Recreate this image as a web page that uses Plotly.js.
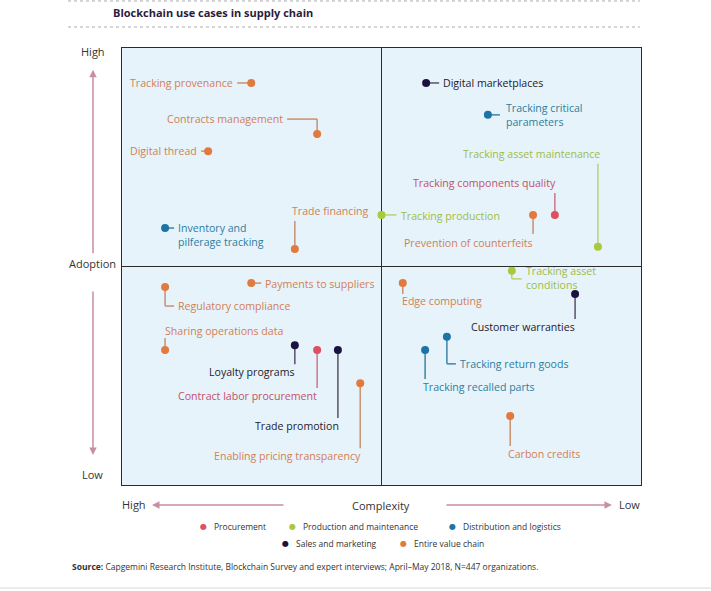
<!DOCTYPE html>
<html>
<head>
<meta charset="utf-8">
<script src="https://cdn.plot.ly/plotly-3.0.1.min.js"></script>
<style>html,body{margin:0;padding:0;background:#fff;}#chart{width:711px;height:591px;}</style>
</head>
<body>
<div id="chart"></div>
<script>
// ---- DATA ----
const categories = ['Procurement', 'Production and maintenance', 'Distribution and logistics', 'Sales and marketing', 'Entire value chain'];
const useCases = [
  'Tracking provenance', 'Contracts management', 'Digital thread', 'Trade financing',
  'Inventory and pilferage tracking', 'Tracking production', 'Digital marketplaces',
  'Tracking critical parameters', 'Tracking asset maintenance', 'Tracking components quality',
  'Prevention of counterfeits', 'Tracking asset conditions', 'Edge computing',
  'Customer warranties', 'Tracking return goods', 'Tracking recalled parts', 'Carbon credits',
  'Payments to suppliers', 'Regulatory compliance', 'Sharing operations data',
  'Loyalty programs', 'Contract labor procurement', 'Trade promotion', 'Enabling pricing transparency'
];
// complexity axis: 0 = high complexity (left), 10 = low complexity (right)
const complexity = [2.49, 3.76, 1.66, 3.33, 0.83, 5.00, 5.86, 7.05, 9.17, 8.34, 7.92, 7.51, 5.41, 8.73, 6.26, 5.84, 7.48, 2.49, 0.83, 0.83, 3.33, 3.76, 4.16, 4.59];
// adoption axis: 0 = low, 10 = high
const adoption   = [9.20, 8.03, 7.64, 5.40, 5.88, 6.18, 9.20, 8.47, 5.45, 6.18, 6.18, 4.90, 4.62, 4.37, 3.39, 3.09, 1.58, 4.62, 4.53, 3.09, 3.20, 3.09, 3.09, 2.33];
const categoryOf = [
  'Entire value chain', 'Entire value chain', 'Entire value chain', 'Entire value chain',
  'Distribution and logistics', 'Production and maintenance', 'Sales and marketing',
  'Distribution and logistics', 'Production and maintenance', 'Procurement',
  'Entire value chain', 'Production and maintenance', 'Entire value chain',
  'Sales and marketing', 'Distribution and logistics', 'Distribution and logistics', 'Entire value chain',
  'Entire value chain', 'Entire value chain', 'Entire value chain',
  'Sales and marketing', 'Procurement', 'Sales and marketing', 'Entire value chain'
];
const xTickLabels = ['High', 'Complexity', 'Low'];
const yTickLabels = ['High', 'Adoption', 'Low'];

// ---- STYLE ----
const dotColor = {
  'Procurement': '#de4f5f',
  'Production and maintenance': '#a9c93c',
  'Distribution and logistics': '#1c73a6',
  'Sales and marketing': '#1b123f',
  'Entire value chain': '#e07a3e'
};
const textColor = {
  'Procurement': '#c4506c',
  'Production and maintenance': '#9dbd45',
  'Distribution and logistics': '#2c7e9f',
  'Sales and marketing': '#1e1a2c',
  'Entire value chain': '#d27f55'
};
const lineColor = {
  'Procurement': '#c9788a',
  'Production and maintenance': '#b9d178',
  'Distribution and logistics': '#3d84a6',
  'Sales and marketing': '#55536a',
  'Entire value chain': '#c9906e'
};
const lineBreaks = {
  'Inventory and pilferage tracking': 'Inventory and<br>pilferage tracking',
  'Tracking critical parameters': 'Tracking critical<br>parameters',
  'Tracking asset conditions': 'Tracking asset<br>conditions'
};
// label placement (pixel offsets from the dot; +y is up) and connector paths
const placement = {
  'Tracking provenance': {dx: -16, dy: 0, xa: 'right', path: [[0, 0], [-14, 0]]},
  'Contracts management': {dx: -32, dy: 15, xa: 'right', path: [[0, 0], [0, 15], [-30, 15]]},
  'Digital thread': {dx: -9, dy: 0, xa: 'right', path: [[0, 0], [-7, 0]]},
  'Trade financing': {dx: -5, dy: 38, xa: 'left', path: [[0, 0], [0, 28]]},
  'Inventory and pilferage tracking': {dx: 11, dy: -6.5, xa: 'left', path: [[0, 0], [9, 0]]},
  'Tracking production': {dx: 17, dy: -1, xa: 'left', path: [[0, 0], [15, 0]]},
  'Digital marketplaces': {dx: 15, dy: 0, xa: 'left', path: [[0, 0], [13, 0]]},
  'Tracking critical parameters': {dx: 16, dy: -0.5, xa: 'left', path: [[0, 0], [12, 0]]},
  'Tracking asset maintenance': {dx: 4, dy: 93, xa: 'right', path: [[0, 0], [0, 83]]},
  'Tracking components quality': {dx: 3, dy: 32, xa: 'right', path: [[0, 0], [0, 22]]},
  'Prevention of counterfeits': {dx: 2, dy: -28, xa: 'right', path: [[0, 0], [0, -19]]},
  'Tracking asset conditions': {dx: 12, dy: -7, xa: 'left', path: [[0, 0], [0, -8], [10, -8]]},
  'Edge computing': {dx: -3, dy: -18, xa: 'left', path: [[0, 0], [0, -11]]},
  'Customer warranties': {dx: 2, dy: -33, xa: 'right', path: [[0, 0], [0, -25]]},
  'Tracking return goods': {dx: 11, dy: -27, xa: 'left', path: [[0, 0], [0, -27], [9, -27]]},
  'Tracking recalled parts': {dx: -4, dy: -37, xa: 'left', path: [[0, 0], [0, -29]]},
  'Carbon credits': {dx: -4, dy: -38, xa: 'left', path: [[0, 0], [0, -30]]},
  'Payments to suppliers': {dx: 12, dy: -1, xa: 'left', path: [[0, 0], [10, 0]]},
  'Regulatory compliance': {dx: 11, dy: -19, xa: 'left', path: [[0, 0], [0, -19], [9, -19]]},
  'Sharing operations data': {dx: -2, dy: 19, xa: 'left', path: [[0, 0], [0, 12]]},
  'Loyalty programs': {dx: 2, dy: -27, xa: 'right', path: [[0, 0], [0, -19]]},
  'Contract labor procurement': {dx: 2, dy: -46, xa: 'right', path: [[0, 0], [0, -38]]},
  'Trade promotion': {dx: 3, dy: -76, xa: 'right', path: [[0, 0], [0, -68]]},
  'Enabling pricing transparency': {dx: 3, dy: -73, xa: 'right', path: [[0, 0], [0, -65]]}
};

const FONT = 'Open Sans, Noto Sans, sans-serif';
const LABEL_SIZE = 10.6;

// ---- TRACES ----
const traces = categories.map(cat => {
  const idx = useCases.map((_, i) => i).filter(i => categoryOf[i] === cat);
  return {
    type: 'scatter', mode: 'markers', name: cat,
    x: idx.map(i => complexity[i]),
    y: idx.map(i => adoption[i]),
    text: idx.map(i => useCases[i]),
    hoverinfo: 'text',
    marker: {size: 8, color: dotColor[cat], line: {width: 0}},
    showlegend: false
  };
});

// ---- SHAPES ----
const shapes = [
  {type: 'line', xref: 'x', yref: 'paper', x0: 5, x1: 5, y0: 0, y1: 1, line: {color: '#2b2b2b', width: 1}, layer: 'below'},
  {type: 'line', xref: 'paper', yref: 'y', x0: 0, x1: 1, y0: 5, y1: 5, line: {color: '#2b2b2b', width: 1}, layer: 'below'},
  {type: 'line', xref: 'paper', yref: 'paper', x0: -0.104, x1: 0.998, y0: 1.1076, y1: 1.1076, line: {color: '#aaaaaa', width: 1, dash: 'dot'}},
  {type: 'line', xref: 'paper', yref: 'paper', x0: -0.104, x1: 0.998, y0: 1.048, y1: 1.048, line: {color: '#aaaaaa', width: 1, dash: 'dot'}},
  {type: 'line', xref: 'paper', yref: 'paper', x0: -0.235, x1: 1.135, y0: -0.2357, y1: -0.2357, line: {color: '#ececec', width: 2}}
];
const annotations = [];

useCases.forEach((name, i) => {
  const p = placement[name];
  const cat = categoryOf[i];
  for (let k = 0; k < p.path.length - 1; k++) {
    shapes.push({
      type: 'line', xref: 'x', yref: 'y', xsizemode: 'pixel', ysizemode: 'pixel',
      xanchor: complexity[i], yanchor: adoption[i],
      x0: p.path[k][0], y0: p.path[k][1], x1: p.path[k + 1][0], y1: p.path[k + 1][1],
      line: {color: lineColor[cat], width: 1.5}, layer: 'below'
    });
  }
  annotations.push({
    x: complexity[i], y: adoption[i], xref: 'x', yref: 'y', showarrow: false,
    text: lineBreaks[name] || name, xshift: p.dx, yshift: p.dy,
    xanchor: p.xa, yanchor: 'middle', align: 'left',
    font: {family: FONT, size: LABEL_SIZE, color: textColor[cat]}
  });
});

// axis words
const axisFont = {family: FONT, size: 11, color: '#333333'};
annotations.push(
  {xref: 'paper', yref: 'paper', x: -0.0559, y: 0.993, text: yTickLabels[0], showarrow: false, font: axisFont, xanchor: 'center', yanchor: 'middle'},
  {xref: 'paper', yref: 'paper', x: -0.0559, y: 0.506, text: yTickLabels[1], showarrow: false, font: axisFont, xanchor: 'center', yanchor: 'middle'},
  {xref: 'paper', yref: 'paper', x: -0.0559, y: 0.0229, text: yTickLabels[2], showarrow: false, font: axisFont, xanchor: 'center', yanchor: 'middle'},
  {xref: 'paper', yref: 'paper', x: 0.0231, y: -0.0435, text: xTickLabels[0], showarrow: false, font: axisFont, xanchor: 'center', yanchor: 'middle'},
  {xref: 'paper', yref: 'paper', x: 0.499, y: -0.0458, text: xTickLabels[1], showarrow: false, font: axisFont, xanchor: 'center', yanchor: 'middle'},
  {xref: 'paper', yref: 'paper', x: 0.977, y: -0.0435, text: xTickLabels[2], showarrow: false, font: axisFont, xanchor: 'center', yanchor: 'middle'}
);
// arrows
const arrowStyle = {text: '', showarrow: true, arrowhead: 2, arrowsize: 1, arrowwidth: 1.5, arrowcolor: '#c98ea0', xref: 'paper', yref: 'paper', axref: 'pixel', ayref: 'pixel'};
annotations.push(
  Object.assign({}, arrowStyle, {x: -0.0559, y: 0.950, ax: 0, ay: 185}),
  Object.assign({}, arrowStyle, {x: -0.0559, y: 0.0686, ax: 0, ay: -165}),
  Object.assign({}, arrowStyle, {x: 0.0578, y: -0.0458, ax: 133, ay: 0}),
  Object.assign({}, arrowStyle, {x: 0.944, y: -0.0458, ax: -167, ay: 0})
);

// legend (built from categories)
const legendPos = [
  {x: 203, y: 526}, {x: 292, y: 526}, {x: 452, y: 526},
  {x: 285, y: 543}, {x: 403, y: 543}
];
categories.forEach((cat, k) => {
  const px = (legendPos[k].x - 122) / 519;
  const py = (485 - legendPos[k].y) / 437;
  annotations.push({xref: 'paper', yref: 'paper', x: px, y: py, text: '●', showarrow: false,
    xanchor: 'center', yanchor: 'middle', font: {family: 'DejaVu Sans', size: 8, color: dotColor[cat]}});
  annotations.push({xref: 'paper', yref: 'paper', x: px + 9 / 519, y: py, text: cat, showarrow: false,
    xanchor: 'left', yanchor: 'middle', font: {family: FONT, size: 8.5, color: '#333333'}});
});

// source
annotations.push({xref: 'paper', yref: 'paper', x: -0.1002, y: -0.1854, xanchor: 'left', yanchor: 'middle', showarrow: false,
  text: '<b>Source:</b> Capgemini Research Institute, Blockchain Survey and expert interviews; April–May 2018, N=447 organizations.',
  font: {family: FONT, size: 8.5, color: '#333333'}});

const layout = {
  width: 711, height: 591,
  margin: {l: 122, r: 70, t: 48, b: 106},
  paper_bgcolor: '#ffffff',
  plot_bgcolor: '#e6f3fa',
  title: {text: 'Blockchain use cases in supply chain', x: 113 / 711, xanchor: 'left', xref: 'container',
    y: 1 - 13 / 591, yanchor: 'middle', yref: 'container',
    font: {family: FONT, size: 11, color: '#2a1c3e', weight: 'bold'}},
  xaxis: {range: [0, 10], showgrid: false, zeroline: false, showticklabels: false, ticks: '',
    showline: true, mirror: true, linecolor: '#2b2b2b', linewidth: 1, fixedrange: true},
  yaxis: {range: [0, 10], showgrid: false, zeroline: false, showticklabels: false, ticks: '',
    showline: true, mirror: true, linecolor: '#2b2b2b', linewidth: 1, fixedrange: true},
  showlegend: false,
  shapes: shapes,
  annotations: annotations,
  hovermode: 'closest'
};

Plotly.newPlot('chart', traces, layout, {displayModeBar: false, staticPlot: false});
</script>
</body>
</html>
